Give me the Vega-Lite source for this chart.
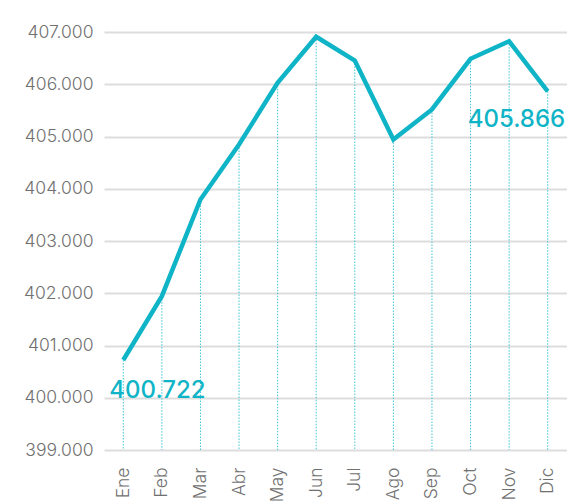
{
  "$schema": "https://vega.github.io/schema/vega-lite/v6.json",
  "width": 463,
  "height": 418,
  "autosize": {"type": "none"},
  "padding": {"left": 104, "top": 32, "right": 0, "bottom": 52},
  "background": "white",
  "data": {"values": [
    {"mes": "Ene", "valor": 400.722},
    {"mes": "Feb", "valor": 401.944},
    {"mes": "Mar", "valor": 403.794},
    {"mes": "Abr", "valor": 404.847},
    {"mes": "May", "valor": 406.028},
    {"mes": "Jun", "valor": 406.908},
    {"mes": "Jul", "valor": 406.455},
    {"mes": "Ago", "valor": 404.943},
    {"mes": "Sep", "valor": 405.517},
    {"mes": "Oct", "valor": 406.487},
    {"mes": "Nov", "valor": 406.824},
    {"mes": "Dic", "valor": 405.866}
  ]},
  "encoding": {
    "x": {
      "field": "mes", "type": "ordinal", "sort": null,
      "scale": {"type": "point", "padding": 0.5},
      "axis": {"title": null, "domain": false, "ticks": false, "grid": false, "labelAngle": -90, "labelAlign": "right", "labelBaseline": "middle", "labelPadding": 17, "labelFont": "Inter", "labelFontWeight": 300, "labelFontSize": 17.5, "labelColor": "#707070"}
    },
    "y": {
      "field": "valor", "type": "quantitative",
      "scale": {"domain": [399, 407], "zero": false, "nice": false},
      "axis": {"title": null, "domain": false, "ticks": false, "values": [399, 400, 401, 402, 403, 404, 405, 406, 407], "format": ".3f", "labelPadding": 11, "labelFont": "Inter", "labelFontWeight": 300, "labelFontSize": 17.5, "labelColor": "#707070", "gridColor": "#dddddd", "gridWidth": 2}
    }
  },
  "layer": [
    {
      "mark": {"type": "rule", "color": "#3cc6d6", "strokeWidth": 1, "strokeDash": [1.5, 1.5]},
      "encoding": {"y2": {"datum": 399}}
    },
    {
      "mark": {"type": "line", "color": "#0fb4c6", "strokeWidth": 4.5, "strokeJoin": "miter"}
    },
    {
      "transform": [{"filter": "datum.mes === 'Ene'"}],
      "mark": {"type": "text", "align": "left", "baseline": "alphabetic", "dx": -14, "dy": 38, "font": "Inter", "fontWeight": 500, "fontSize": 24, "color": "#0fb4c6"},
      "encoding": {"text": {"field": "valor", "type": "quantitative", "format": ".3f"}}
    },
    {
      "transform": [{"filter": "datum.mes === 'Dic'"}],
      "mark": {"type": "text", "align": "left", "baseline": "alphabetic", "dx": -80, "dy": 36, "font": "Inter", "fontWeight": 500, "fontSize": 24, "color": "#0fb4c6"},
      "encoding": {"text": {"field": "valor", "type": "quantitative", "format": ".3f"}}
    }
  ],
  "config": {"view": {"stroke": null}}
}
